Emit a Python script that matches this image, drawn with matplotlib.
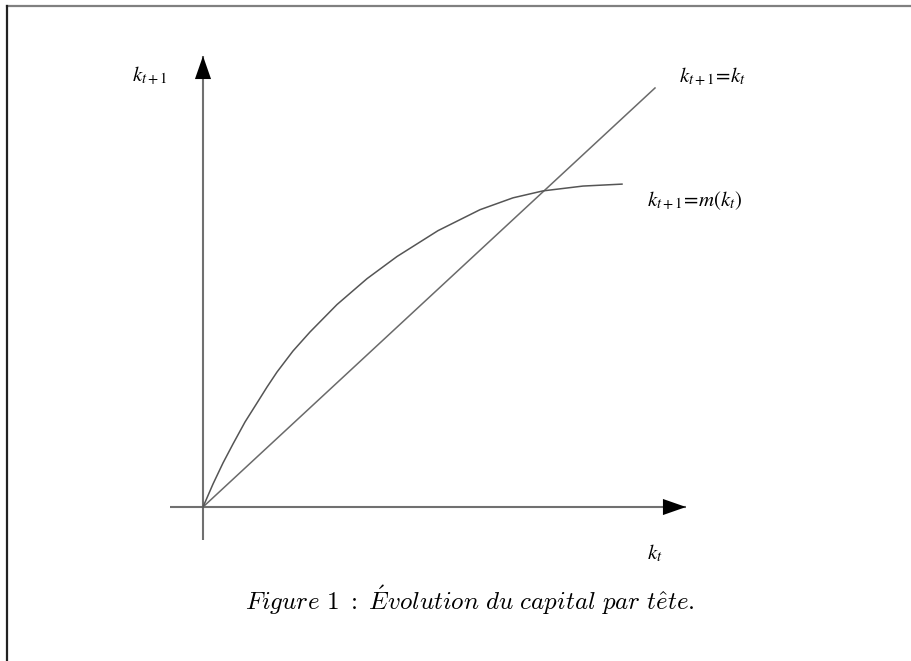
import matplotlib.pyplot as plt
from matplotlib.lines import Line2D

k_curve = [0, 0.10, 0.20, 0.30, 0.42, 0.54, 0.64, 0.74, 0.90, 1.07, 1.34, 1.64,
           1.94, 2.35, 2.77, 3.10, 3.40, 3.80, 4.19]
m_curve = [0, 0.248, 0.475, 0.680, 0.917, 1.122, 1.294, 1.456, 1.683, 1.888, 2.184,
           2.463, 2.702, 2.981, 3.207, 3.335, 3.410, 3.462, 3.483]

# 45 degree line k_{t+1} = k_t
k_diag = [0, 4.52]

x_axis = [-0.33, 4.83]
y_axis = [-0.356, 4.865]

caption = r"$\mathit{Figure\ 1\ :\ \acute{E}volution\ du\ capital\ par\ t\hat{e}te.}$"


def arrow_head(ax, tip, back):
    ax.annotate("", xy=tip, xytext=back,
                arrowprops=dict(arrowstyle="-|>,head_length=1.66,head_width=0.58",
                                color="black", lw=0, shrinkA=0, shrinkB=0,
                                mutation_scale=10))


def run():
    fig = plt.figure(figsize=(9.12, 6.61), dpi=100)
    ax = fig.add_axes([0, 0, 1, 1])
    ax.set_xlim(-2.03, 7.09)
    ax.set_ylim(-1.661, 5.469)
    ax.axis("off")

    # axes
    ax.plot(x_axis, [0, 0], color="#707070", lw=1.5, solid_capstyle="butt")
    ax.plot([0, 0], y_axis, color="#707070", lw=1.5, solid_capstyle="butt")
    arrow_head(ax, (x_axis[1], 0), (x_axis[1] - 0.3, 0))
    arrow_head(ax, (0, y_axis[1]), (0, y_axis[1] - 0.3))

    # curves
    ax.plot(k_diag, k_diag, color="#6a6a6a", lw=1.1)
    ax.plot(k_curve, m_curve, color="#555555", lw=1.1, solid_joinstyle="round")

    # labels
    ax.text(-0.53, 4.65, r"$k_{t+1}$", fontsize=15, ha="center", va="center",
            math_fontfamily="stix")
    ax.text(4.76, 4.64, r"$k_{t+1}\!=\!k_t$", fontsize=15, ha="left", va="center",
            math_fontfamily="stix")
    ax.text(4.44, 3.30, r"$k_{t+1}\!=\!m(k_t)$", fontsize=15, ha="left", va="center",
            math_fontfamily="stix")
    ax.text(4.52, -0.50, r"$k_t$", fontsize=15, ha="center", va="center",
            math_fontfamily="stix")
    ax.text(2.67, -1.00, caption, fontsize=18, ha="center", va="center",
            math_fontfamily="cm")

    # frame: grey top rule and dark left rule
    fig.add_artist(Line2D([0.0077, 1.0], [0.991, 0.991], transform=fig.transFigure,
                          color="#808080", lw=1.6))
    fig.add_artist(Line2D([0.0077, 0.0077], [0.0, 0.991], transform=fig.transFigure,
                          color="#222222", lw=1.6))

    fig.savefig("out.png", dpi=100)


if __name__ == "__main__":
    run()
